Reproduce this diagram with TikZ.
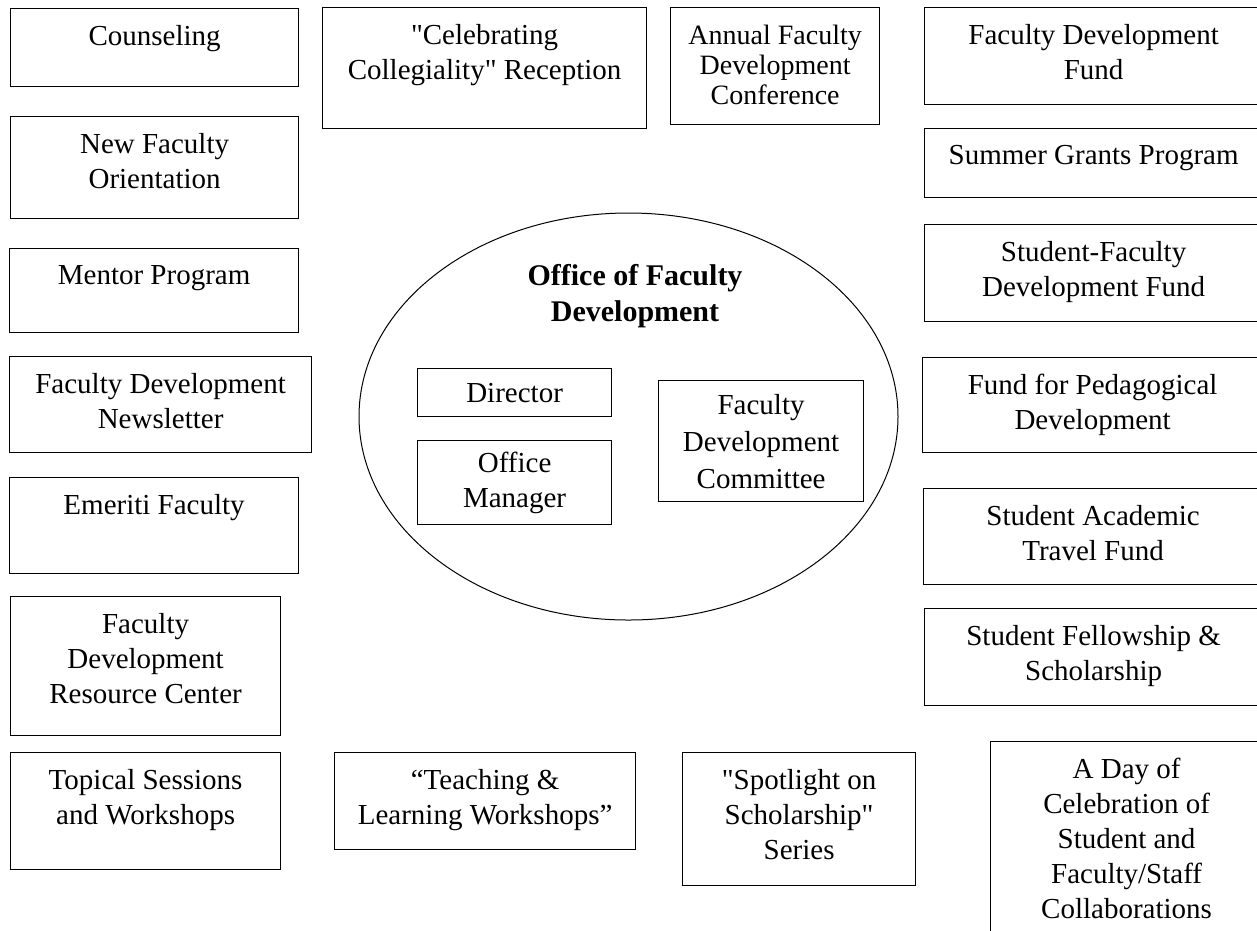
\documentclass[tikz,border=0pt]{standalone}
\usepackage{fontspec}
\setmainfont{Liberation Serif}
\usetikzlibrary{positioning,shapes.geometric}

\tikzset{
  prog/.style = {draw, line width=1.2pt, rectangle, anchor=north west, inner sep=0pt},
  progtext/.style = {align=center, inner sep=0pt, font=\fontsize{29}{35}\selectfont},
  smalltext/.style = {align=center, inner sep=0pt, font=\fontsize{28}{30}\selectfont},
}

\begin{document}
\begin{tikzpicture}[x=1pt, y=-1pt]
\useasboundingbox (0,0) rectangle (1257,930);
\clip (0,0) rectangle (1257,930);

\node[prog, minimum width=288pt, minimum height=78pt] (couns) at (10,8) {};
\node[progtext, below=17pt of couns.north] (couns-t) {Counseling};
\node[prog, minimum width=288pt, minimum height=102pt] (newfac) at (10,116) {};
\node[progtext, below=17pt of newfac.north] (newfac-t) {New Faculty\\Orientation};
\node[prog, minimum width=289pt, minimum height=84pt] (mentor) at (9,248) {};
\node[progtext, below=17pt of mentor.north] (mentor-t) {Mentor Program};
\node[prog, minimum width=302pt, minimum height=96pt] (newsl) at (9,356) {};
\node[progtext, below=17pt of newsl.north] (newsl-t) {Faculty Development\\Newsletter};
\node[prog, minimum width=289pt, minimum height=96pt] (emer) at (9,477) {};
\node[progtext, below=17pt of emer.north] (emer-t) {Emeriti Faculty};
\node[prog, minimum width=270pt, minimum height=139pt] (rescen) at (10,596) {};
\node[progtext, below=17pt of rescen.north] (rescen-t) {Faculty\\Development\\Resource Center};
\node[prog, minimum width=270pt, minimum height=117pt] (topical) at (10,752) {};
\node[progtext, below=17pt of topical.north] (topical-t) {Topical Sessions\\and Workshops};

\node[prog, minimum width=324pt, minimum height=121pt] (celeb) at (322,7) {};
\node[progtext, below=17pt of celeb.north] (celeb-t) {\textquotedbl Celebrating\\Collegiality\textquotedbl{} Reception};
\node[prog, minimum width=209pt, minimum height=117pt] (annual) at (670,7) {};
\node[smalltext, below=18pt of annual.north] (annual-t) {Annual Faculty\\Development\\Conference};

\node[prog, minimum width=301pt, minimum height=97pt] (teach) at (334,752) {};
\node[progtext, below=17pt of teach.north] (teach-t) {“Teaching \&\\Learning Workshops”};
\node[prog, minimum width=233pt, minimum height=133pt] (spot) at (682,752) {};
\node[progtext, below=17pt of spot.north] (spot-t) {\textquotedbl Spotlight on\\Scholarship\textquotedbl\\Series};

\node[prog, minimum width=338pt, minimum height=97pt] (fdfund) at (924,7) {};
\node[progtext, below=17pt of fdfund.north] (fdfund-t) {Faculty Development\\Fund};
\node[prog, minimum width=338pt, minimum height=69pt] (summer) at (924,128) {};
\node[progtext, below=17pt of summer.north] (summer-t) {Summer Grants Program};
\node[prog, minimum width=338pt, minimum height=97pt] (sffund) at (924,224) {};
\node[progtext, below=17pt of sffund.north] (sffund-t) {Student-Faculty\\Development Fund};
\node[prog, minimum width=340pt, minimum height=95pt] (pedag) at (922,357) {};
\node[progtext, below=17pt of pedag.north] (pedag-t) {Fund for Pedagogical\\Development};
\node[prog, minimum width=339pt, minimum height=96pt] (travel) at (923,488) {};
\node[progtext, below=17pt of travel.north] (travel-t) {Student Academic\\Travel Fund};
\node[prog, minimum width=338pt, minimum height=97pt] (fellow) at (924,608) {};
\node[progtext, below=17pt of fellow.north] (fellow-t) {Student Fellowship \&\\Scholarship};
\node[prog, minimum width=272pt, minimum height=220pt] (aday) at (990,741) {};
\node[progtext, below=17pt of aday.north] (aday-t) {A Day of\\Celebration of\\Student and\\Faculty/Staff\\Collaborations};

\node[draw, ellipse, line width=1pt, minimum width=539pt, minimum height=407pt, inner sep=0pt] (office) at (628.5,416.5) {};
\node[align=center, inner sep=0pt, font=\bfseries\fontsize{30}{36}\selectfont] (office-t) at (635,296) {Office of Faculty\\Development};
\node[prog, progtext, minimum width=194pt, minimum height=48pt] (dir) at (417,368) {Director};
\node[prog, progtext, minimum width=194pt, minimum height=84pt] (offmgr) at (417,440) {Office\\Manager};
\node[prog, progtext, minimum width=205pt, minimum height=121pt, font=\fontsize{29}{37}\selectfont] (fdcomm) at (658,380) {Faculty\\Development\\Committee};
\end{tikzpicture}
\end{document}
